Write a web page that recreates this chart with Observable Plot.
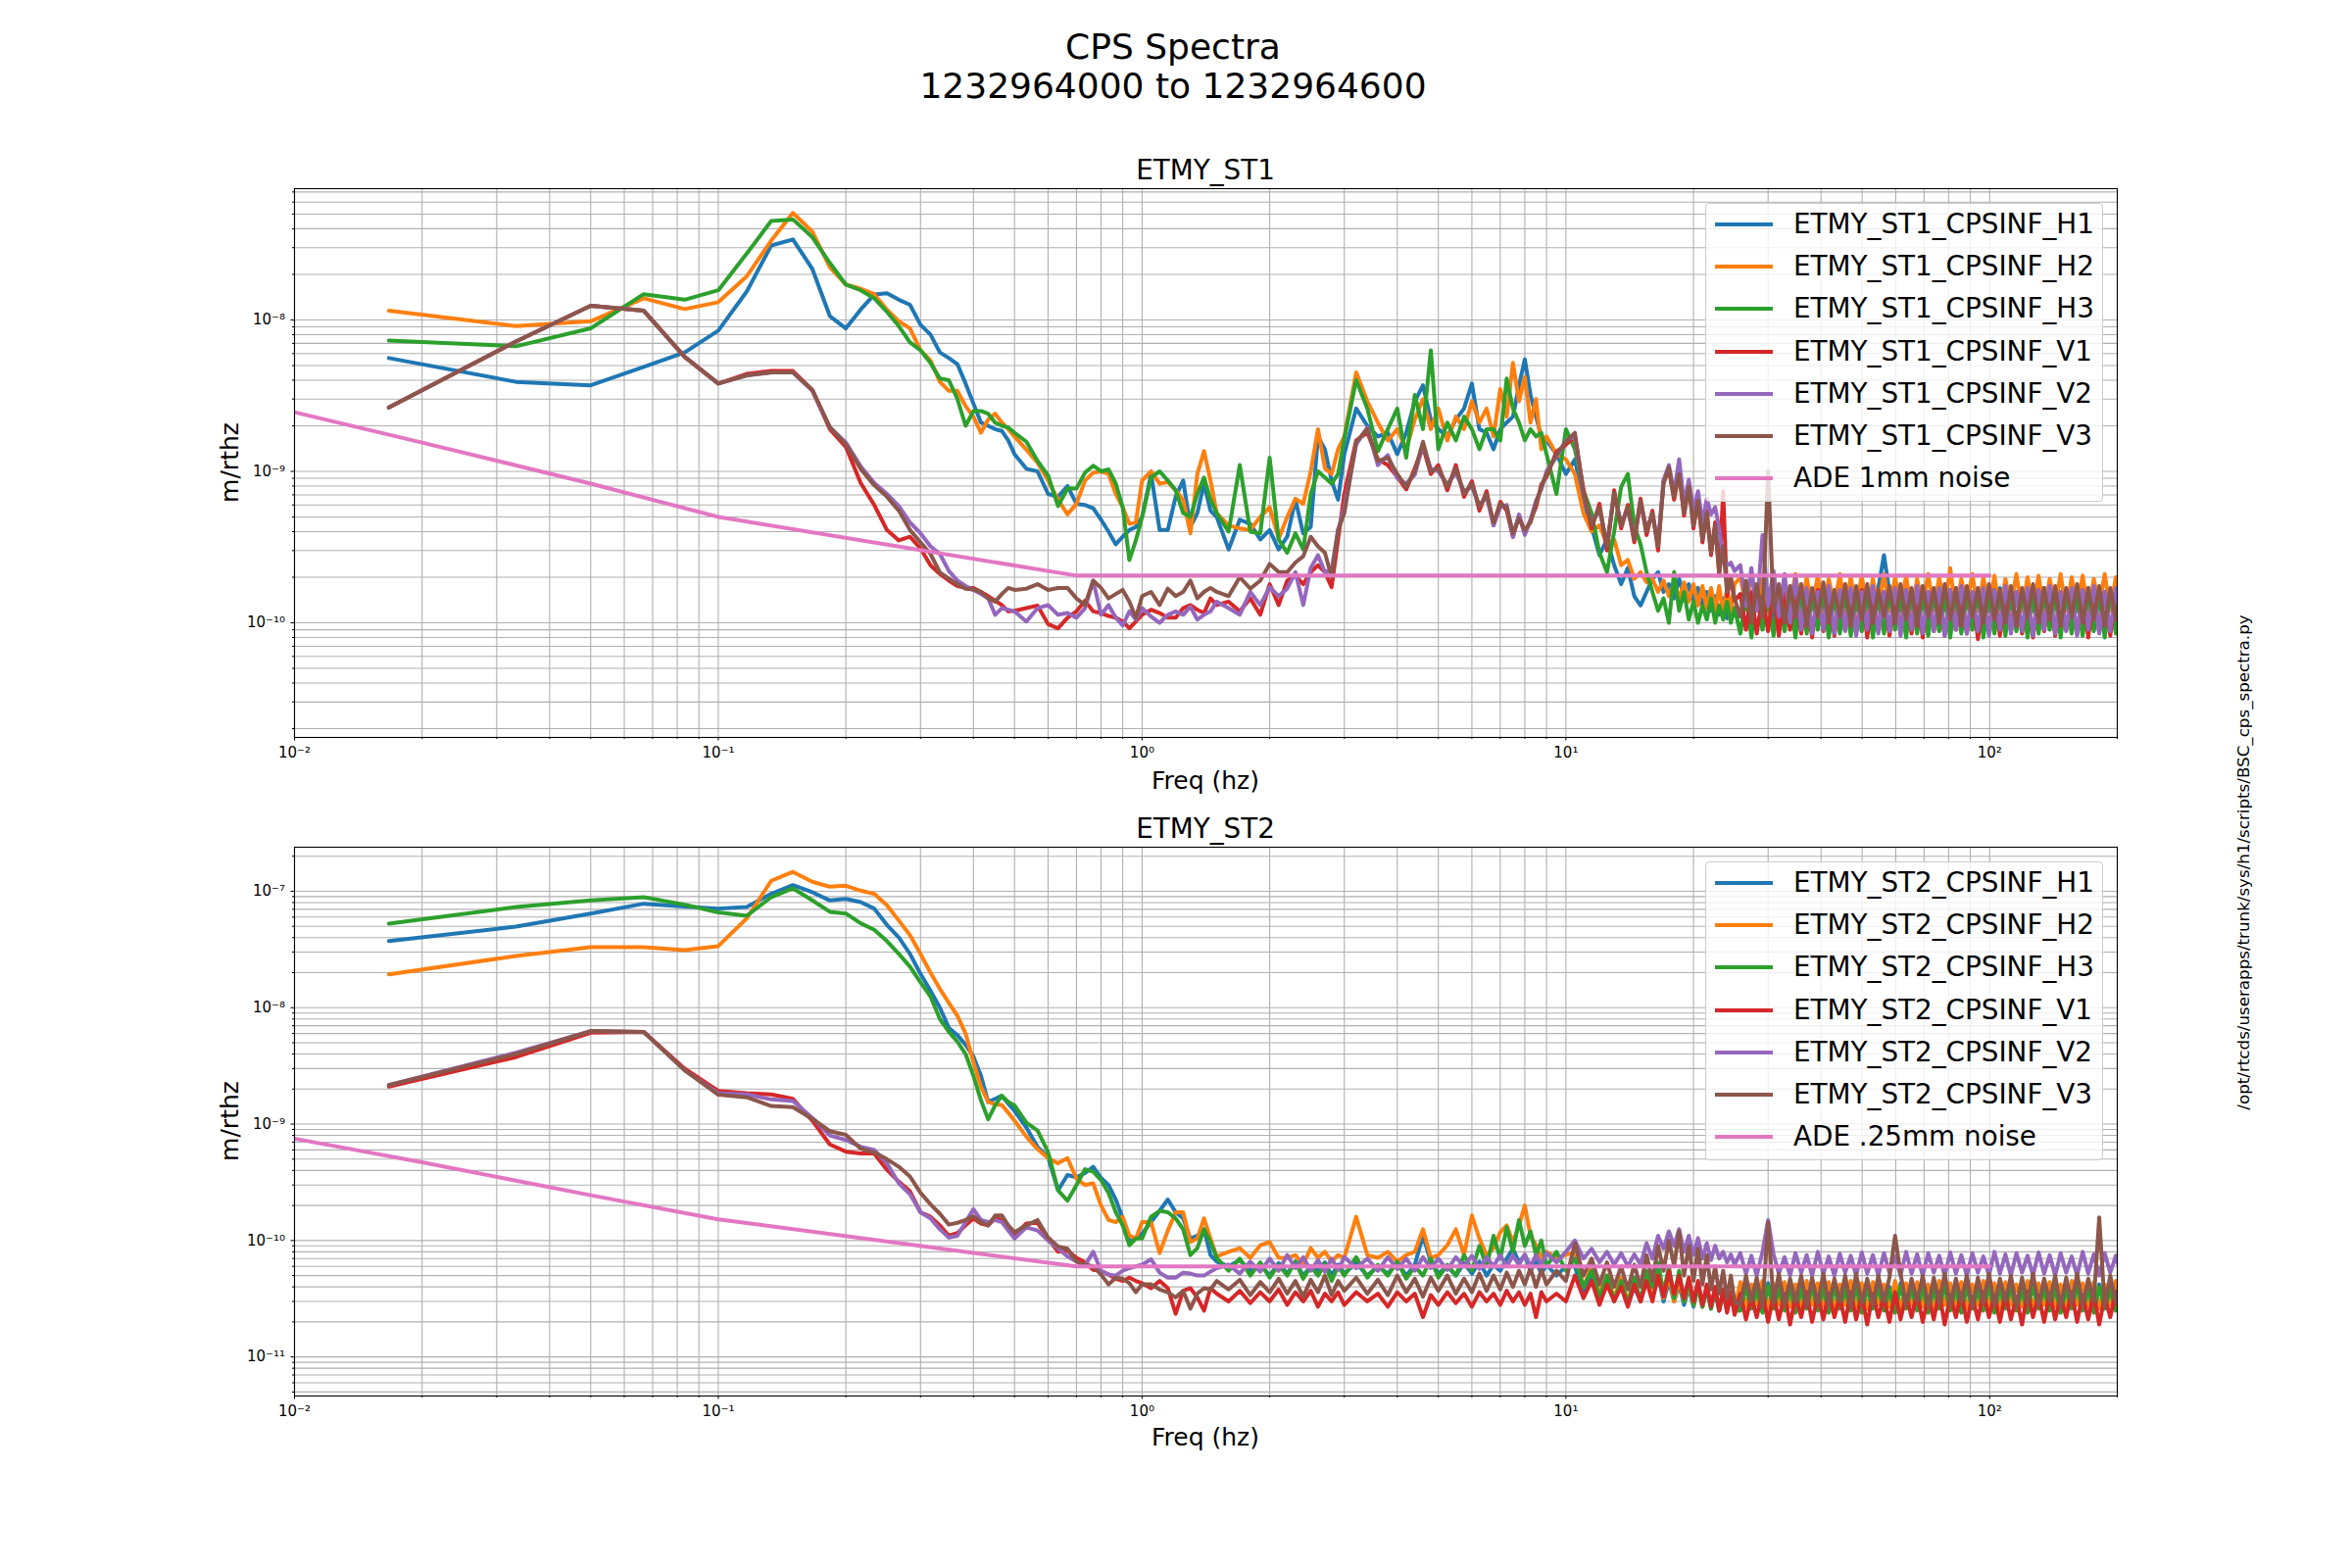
<!DOCTYPE html>
<html><head><meta charset="utf-8">
<script src="https://cdn.jsdelivr.net/npm/d3@7"></script>
<script src="https://cdn.jsdelivr.net/npm/@observablehq/plot@0.6"></script>
<style>
body{margin:0;background:#fff;}
#fig{position:relative;width:2400px;height:1600px;font-family:"DejaVu Sans",sans-serif;color:#000;overflow:hidden;}
.t{position:absolute;white-space:nowrap;line-height:1;}
.svgwrap{position:absolute;left:0;}
.legend{position:absolute;box-sizing:border-box;border:1px solid #cccccc;border-radius:4px;background:rgba(255,255,255,0.8);}
.sw{position:absolute;height:4px;}
.lt{position:absolute;white-space:nowrap;line-height:1;font-size:27.8px;transform:translateY(-50%);}
</style></head><body><div id="fig"></div>
<script>
// ---------------- DATA (amplitudes in units of 1e-10 m/rthz) ----------------
const UNIT = 1e-10;
const F_LOW = [0.0167,0.0333,0.05,0.0667,0.0833,0.1,0.1167,0.1333,0.15,0.1667,0.1833,0.2,0.2167,0.2333,0.25,0.2667,0.2833,0.3,0.3167,0.3333,0.35,0.3667,0.3833,0.4,0.4167,0.4333,0.45,0.4667,0.4833,0.5];
const F_MID = [0.5333,0.5667,0.6,0.6333,0.6667,0.7,0.7333,0.7667,0.8,0.8333,0.8667,0.9,0.9333,0.9667,1.0,
1.05,1.1,1.15,1.2,1.25,1.3,1.35,1.4,1.45,1.5,
1.6,1.7,1.8,1.9,2.0,2.1,2.2,2.3,2.4,2.5,2.6,2.7,2.8,2.9,3.0,
3.2,3.4,3.6,3.8,4.0,4.2,4.4,4.6,4.8,5.0,
5.25,5.5,5.75,6.0,6.25,6.5,6.75,7.0,7.25,7.5,7.75,8.0,8.25,8.5,8.75,9.0,9.5,10];
const F_BAND = [10.5,11,11.5,12,12.5,13,13.5,14,14.5,15,15.5,16,16.5,17,17.5,18,18.5,19,19.5,20,20.5,21,21.5,22,22.5,23,23.5,24,24.5,25];
const F_HIGH = [25.8,26.6,27.4,28.2,29.1,30,30.9,31.8,32.8,33.8,
34.8,35.9,37,38.1,39.3,40.5,41.7,43,44.3,45.6,
47,48.4,49.9,51.4,53,54.6,56.3,58,59.8,61.6,
63.5,65.4,67.4,69.5,71.6,73.8,76,78.3,80.7,83.2,
85.7,88.3,91,93.8,96.6,99.6,102.6,105.7,108.9,112.2,
115.6,119.2,122.8,126.5,130.4,134.4,138.5,142.7,147,151.5,
156.1,160.8,165.7,170.8,176,181.3,186.8,192.5,198.4,204.4];

// ETMY_ST1
const ST1_H1 = [56,39,37,49,61,85,154,310,340,217,106,88,117,147,150,136,126,93,80,61,56,51,38,28,21,20,19,18.5,16,13,
10.4,10,7.1,6.8,8.0,6.1,6.0,5.7,4.8,4.0,3.3,3.7,4.1,4.3,5.0,
9.6,4.1,4.1,6.8,8.7,4.3,5.3,8.3,5.5,5.0,
3.05,4.8,4.5,3.55,4.1,3.05,3.7,6.5,3.9,4.3,17,14,8.7,6.5,13,
26,20,17,18,13,18,29,37,22,19,
17,22,26,38,19,18,14,19,21,23,37,55,32,23,17,16,13,9.6,
12,6.4,4.3,2.8,3.55,2.4,1.8,2.3,1.5,1.3,1.6,1.95,2.16,1.6,1.8,1.45,1.95,1.5,1.8,1.38,1.7,1.3,1.6,1.2,1.5,1.13,1.45,1.07,1.38,1.13,
1.1,1.6,1.0,1.7,1.05,1.5,1.0,1.65,1.1,1.55,
0.95,1.7,1.05,1.6,1.0,1.65,1.1,1.5,0.95,1.7,
1.05,1.6,1.0,1.55,1.1,1.7,2.8,1.6,1.0,1.65,
0.95,1.6,1.1,1.7,1.0,1.55,1.05,1.65,0.95,1.7,
1.1,1.6,1.0,1.65,1.05,1.55,0.95,1.7,1.1,1.6,
1.0,1.65,1.05,1.55,0.95,1.7,1.1,1.6,1.0,1.65,
1.05,1.55,0.95,1.7,1.1,1.6,1.0,1.65,1.05,1.55];
const ST1_H2 = [115,91,98,139,118,131,194,334,509,383,223,171,161,148,117,98,88,63,54,39,34,34,27,23,18,22,24,21,19,17,
13.9,11.4,8.7,6.5,5.2,6.1,8.7,9.8,10,9.6,7.1,5.8,4.5,4.6,8.7,
10,8.3,8.5,7.5,6.5,3.9,9.6,13.6,8.7,5.3,
4.4,4.2,4.1,5.0,5.8,3.6,5.0,6.6,6.1,10,19,10.5,9.6,14,17,
45,29,21,16,19,14,22,30,19,26,
16,23,19,29,21,26,17,35,23,52,29,42,21,30,14,17,13,12,
9.6,5.3,4.0,4.4,3.3,3.55,2.4,2.6,1.95,2.16,1.85,1.95,1.6,1.9,1.5,1.85,1.45,1.85,1.38,1.8,1.3,1.75,1.25,1.7,1.2,1.75,1.13,1.7,1.2,1.8,
2.0,1.3,2.1,1.2,1.95,1.25,2.05,1.15,1.9,1.3,
2.1,1.2,2.0,1.25,2.05,1.15,1.95,1.3,2.1,1.2,
2.0,1.25,2.05,1.15,1.95,1.3,2.1,1.2,2.0,1.25,
2.05,1.15,1.95,1.3,2.1,1.2,2.0,1.25,2.3,1.15,
1.95,1.3,2.1,1.2,2.0,1.25,2.05,1.15,1.95,1.3,
2.1,1.2,2.0,1.25,2.05,1.15,1.95,1.3,2.1,1.2,
2.0,1.25,2.05,1.15,1.95,1.3,2.1,1.2,2.0,1.25];
const ST1_H3 = [73,67,88,148,136,157,274,450,461,352,238,171,157,139,113,91,71,63,52,41,40,30,20,25,25,24,21,20,19.5,18,
15.7,11.7,9.4,5.9,7.7,7.7,9.8,10.9,10,10.3,8.3,5.8,2.6,3.5,5.0,
9.1,10,8.7,7.5,5.3,5.0,7.1,9.1,6.5,5.3,
4.0,11,4.0,3.9,12.3,3.55,2.9,3.9,3.05,7.1,10,9.1,8.3,9.6,16.5,
40,26,13.6,19,26,12.3,32,19,63,14,
21,16,23,19,14,19,19,16,41,26,21,16,19,17,18,13,7.1,19,
14,7.5,5.3,2.9,2.16,4.0,7.9,9.6,4.4,3.3,2.16,1.6,1.2,1.45,1.0,2.16,1.2,1.6,1.05,1.38,1.0,1.3,1.05,1.45,1.0,1.3,1.05,1.38,1.0,1.25,
0.85,1.5,0.8,1.6,0.9,1.45,0.82,1.55,0.88,1.5,
0.8,1.6,0.85,1.45,0.9,1.55,0.8,1.5,0.85,1.6,
0.82,1.45,0.88,1.55,0.8,1.5,0.85,1.6,0.9,1.45,
0.8,1.55,0.85,1.5,0.82,1.6,0.88,1.45,0.8,1.55,
0.85,1.5,0.9,1.6,0.8,1.45,0.85,1.55,0.82,1.5,
0.88,1.6,0.8,1.45,0.85,1.55,0.9,1.5,0.8,1.6,
0.85,1.45,0.82,1.55,0.88,1.5,0.8,1.6,0.85,1.5];
const ST1_V1 = [26.4,72,124,115,57,38,44,46,46,34.5,19,14.5,8.4,6.0,4.1,3.5,3.7,3.1,2.4,2.1,1.9,1.75,1.7,1.7,1.6,1.5,1.4,1.31,1.19,1.2,
1.25,1.3,0.98,0.92,1.08,1.19,1.4,1.19,1.16,1.11,1.08,1.02,0.92,1.02,1.13,
1.22,1.16,1.08,1.08,1.25,1.31,1.22,1.16,1.45,1.31,
1.38,1.19,1.45,1.13,1.8,1.31,1.9,2.05,1.8,2.16,2.4,2.16,1.72,3.55,7.1,
16,18,12,11,9.2,7.6,10.5,14.5,9.6,11,
7.5,11,6.8,8.6,5.5,7.4,4.4,6.3,5.5,3.7,5.1,3.9,4.8,5.8,8.2,9.2,13.5,15,
17,7.6,4.2,6.1,3.0,7.5,4.2,6.0,3.4,6.6,3.8,5.5,3.0,8.6,10.2,6.5,9.9,5.1,8.2,4.2,6.6,3.4,5.5,2.8,4.6,2.05,7.4,1.5,2.0,1.4,
1.55,0.9,1.6,0.85,1.5,0.88,1.65,0.82,1.55,0.9,
1.6,0.85,1.5,0.8,1.65,0.88,1.55,0.82,1.6,0.9,
1.5,0.85,1.65,0.8,1.55,0.88,1.6,0.82,1.5,0.9,
1.65,0.85,1.55,0.8,1.6,0.88,1.5,0.82,1.65,0.9,
1.55,0.85,1.6,0.78,1.5,0.88,1.65,0.82,1.55,0.9,
1.6,0.85,1.5,0.8,1.65,0.88,1.55,0.82,1.6,0.9,
1.5,0.85,1.65,0.8,1.55,0.88,1.6,0.82,1.5,0.9];
const ST1_V2 = [26.4,72,124,115,57,38,43,45,45,34,19.6,15.5,10.8,8.4,7.1,5.9,4.6,3.9,3.2,2.85,2.2,1.9,1.75,1.65,1.55,1.45,1.13,1.25,1.22,1.19,
1.02,1.25,1.31,1.13,1.16,1.08,1.25,1.9,1.13,1.31,1.08,0.96,1.19,1.05,1.25,
1.1,1.0,1.13,1.19,1.13,1.28,1.05,1.13,1.19,1.38,
1.25,1.13,1.6,1.31,1.72,1.5,1.68,2.16,1.31,2.3,2.8,2.16,2.25,4.1,5.8,
15,19.5,11,12.8,9,8.3,9.5,15,10.4,10,
8.2,9.8,7.4,7.9,6.0,6.8,4.4,5.8,6.0,3.7,5.2,3.8,4.8,6.4,7.6,10,12.5,16,
17,6.9,4.6,5.6,3.3,7.0,4.6,5.5,3.7,6.2,4.2,5.1,3.4,8.8,11,7.2,12,6.2,8.8,5.6,7.4,4.6,6.6,5.2,5.8,4.2,2.6,2.4,2.5,2.2,
2.4,1.3,2.3,1.2,3.8,1.3,2.2,1.1,2.1,1.0,
2.0,0.9,1.7,0.85,1.6,0.9,1.75,0.85,1.65,0.88,
1.7,0.82,1.6,0.9,1.75,0.85,1.6,0.88,1.7,0.82,
1.65,0.9,1.75,0.85,1.6,0.88,1.7,0.82,1.65,0.9,
1.75,0.85,1.6,0.88,1.7,0.82,1.65,0.9,1.75,0.85,
1.6,0.88,1.7,0.82,1.65,0.9,1.75,0.85,1.6,0.88,
1.7,0.82,1.65,0.9,1.75,0.85,1.6,0.88,1.7,0.82];
const ST1_V3 = [26.4,72,124,115,57,38,43,45,45,34.5,19.6,15.1,10.4,8.1,6.8,5.5,4.1,3.4,2.85,2.15,1.96,1.8,1.68,1.66,1.6,1.45,1.38,1.55,1.7,1.65,
1.68,1.8,1.65,1.7,1.7,1.45,1.31,1.9,1.7,1.45,1.55,1.65,1.38,1.08,1.5,
1.6,1.31,1.68,1.5,1.6,1.9,1.45,1.6,1.7,1.6,
1.5,2.0,1.68,1.9,2.45,2.16,2.16,2.5,2.75,3.7,3.2,2.9,2.0,4.1,5.3,
15.7,19,11.7,12.3,9.6,7.9,10,15.7,10,10.5,
7.9,10.5,7.1,8.3,5.8,7.1,4.6,6.1,5.8,3.9,4.9,4.1,4.6,6.1,7.9,9.6,12.9,15.7,
18,7.2,4.4,5.8,3.2,7.2,4.4,5.8,3.55,6.4,4.0,5.3,3.2,8.3,10.6,6.8,9.6,5.3,7.9,4.4,6.4,3.55,5.3,2.9,4.4,2.16,3.2,1.6,1.95,1.45,
1.1,1.9,1.0,1.8,1.1,10,1.2,1.8,1.0,1.75,
1.1,1.8,0.95,1.7,1.1,1.85,1.0,1.65,1.1,1.8,
0.95,1.75,1.05,1.8,1.0,1.65,1.1,1.75,1.0,1.8,
1.05,1.7,0.95,1.75,1.1,1.7,1.0,1.8,1.05,1.7,
0.95,1.75,1.1,1.7,1.0,1.8,1.05,1.65,1.0,1.75,
0.95,1.7,1.1,1.8,1.0,1.7,1.05,1.75,0.95,1.7,
1.1,1.8,1.0,1.7,1.05,1.75,0.95,1.7,1.05,1.75];

// ETMY_ST2
const ST2_H1 = [373,497,644,782,740,710,732,950,1130,980,834,861,807,710,514,400,290,195,140,100,67,58,48,38,26,15.5,16.5,17.5,15,13,
9.35,6.35,5.2,2.7,3.65,3.5,3.8,4.3,3.45,3.0,2.25,1.55,0.97,1.04,1.15,
1.44,1.8,2.25,1.75,1.55,1.04,1.1,1.25,0.75,0.66,
0.6,0.68,0.55,0.62,0.5,0.64,0.52,0.66,0.5,0.6,0.55,0.65,0.5,0.62,0.52,
0.64,0.5,0.6,0.52,0.65,0.5,0.62,1.1,0.66,0.52,
0.6,0.5,0.64,0.52,0.66,0.5,0.62,0.55,0.7,0.85,0.65,0.75,0.55,0.66,0.52,0.62,0.5,0.6,
0.6,0.35,0.5,0.3,0.45,0.32,0.42,0.28,0.4,0.3,0.45,0.32,0.5,0.3,0.45,0.3,0.42,0.28,0.4,0.27,0.4,0.27,0.38,0.26,0.37,0.25,0.36,0.25,0.35,0.25,
0.26,0.42,0.27,0.4,0.25,0.43,0.27,0.41,0.26,0.42,
0.25,0.4,0.27,0.43,0.26,0.41,0.25,0.42,0.27,0.4,
0.26,0.43,0.25,0.41,0.27,0.42,0.26,0.4,0.25,0.43,
0.27,0.41,0.26,0.42,0.25,0.4,0.27,0.43,0.26,0.41,
0.25,0.42,0.27,0.4,0.26,0.43,0.25,0.41,0.27,0.42,
0.26,0.4,0.25,0.43,0.27,0.41,0.26,0.42,0.25,0.4,
0.27,0.43,0.26,0.41,0.25,0.42,0.27,0.4,0.26,0.43];
const ST2_H2 = [193,278,331,331,312,338,585,1230,1466,1206,1094,1116,1013,950,757,560,420,290,200,145,110,85,60,34,21,15.5,14.8,14.6,12.5,10.7,
7.8,6.1,5.1,4.6,5.1,3.4,3.0,3.1,2.0,1.5,1.44,1.6,1.1,1.04,1.44,
1.44,0.78,1.22,1.75,1.75,0.97,1.04,1.55,1.04,0.73,
0.8,0.86,0.71,0.91,0.97,0.71,0.71,0.75,0.62,0.86,0.71,0.8,0.66,0.75,0.71,
1.6,0.75,0.71,0.8,0.66,0.75,0.8,1.25,0.71,0.75,
0.91,1.25,0.75,1.64,1.04,0.75,0.86,1.18,1.35,0.97,1.35,2.0,1.1,0.91,0.71,0.8,0.71,0.75,
0.8,0.4,0.6,0.35,0.5,0.32,0.48,0.3,0.45,0.3,0.5,0.33,0.55,0.32,0.5,0.3,0.45,0.3,0.42,0.28,0.4,0.27,0.4,0.27,0.38,0.26,0.37,0.25,0.36,0.25,
0.44,0.27,0.42,0.28,0.45,0.26,0.43,0.28,0.44,0.27,
0.42,0.26,0.45,0.28,0.43,0.27,0.44,0.26,0.42,0.28,
0.45,0.27,0.43,0.26,0.44,0.28,0.42,0.27,0.45,0.26,
0.43,0.28,0.44,0.27,0.42,0.26,0.45,0.28,0.43,0.27,
0.44,0.26,0.42,0.28,0.45,0.27,0.43,0.26,0.44,0.28,
0.42,0.27,0.45,0.26,0.43,0.28,0.44,0.27,0.42,0.26,
0.45,0.28,0.43,0.27,0.44,0.26,0.42,0.28,0.45,0.27];
const ST2_H3 = [527,732,834,889,767,658,616,889,1060,834,666,644,531,467,373,290,225,165,125,80,62,51,40,26,16,11,14.5,17.5,15.5,14.5,
10.3,8.8,5.75,2.7,2.2,3.0,4.1,3.9,3.3,2.57,1.75,1.35,0.91,1.04,1.04,
1.6,1.8,1.75,1.55,1.25,0.75,0.86,1.25,0.97,0.71,
0.55,0.7,0.5,0.65,0.48,0.62,0.5,0.66,0.47,0.6,0.5,0.63,0.45,0.6,0.5,
0.72,0.48,0.62,0.5,0.66,0.47,0.6,0.5,0.7,0.48,
0.62,0.5,0.75,0.55,0.9,0.6,1.1,0.7,1.3,0.8,1.5,0.9,1.2,0.75,1.0,0.6,0.8,0.55,
0.7,0.4,0.55,0.32,0.5,0.3,0.45,0.28,0.48,0.3,0.55,0.4,0.65,0.35,0.6,0.32,0.55,0.3,0.45,0.28,0.42,0.27,0.4,0.26,0.38,0.25,0.36,0.26,0.34,0.25,
0.25,0.4,0.26,0.38,0.24,0.41,0.26,0.39,0.25,0.4,
0.24,0.38,0.26,0.41,0.25,0.39,0.24,0.4,0.26,0.38,
0.25,0.41,0.24,0.39,0.26,0.4,0.25,0.38,0.24,0.41,
0.26,0.39,0.25,0.4,0.24,0.38,0.26,0.41,0.25,0.39,
0.24,0.4,0.26,0.38,0.25,0.41,0.24,0.39,0.26,0.4,
0.25,0.38,0.24,0.41,0.26,0.39,0.25,0.4,0.24,0.38,
0.26,0.41,0.25,0.39,0.24,0.4,0.26,0.38,0.25,0.41];
const ST2_V1 = [21,37.6,61,62,30,19.3,18.4,18,16.5,10.7,6.7,5.8,5.6,5.6,4.05,3.2,2.65,1.75,1.6,1.35,1.1,1.16,1.35,1.55,1.4,1.35,1.56,1.5,1.27,1.1,
1.4,1.42,1.04,0.8,0.82,0.71,0.65,0.56,0.55,0.51,0.47,0.45,0.48,0.45,0.43,
0.39,0.45,0.39,0.235,0.37,0.39,0.325,0.25,0.39,0.35,
0.3,0.37,0.29,0.36,0.3,0.38,0.28,0.36,0.3,0.37,0.27,0.35,0.3,0.36,0.28,
0.36,0.3,0.35,0.27,0.36,0.3,0.35,0.22,0.34,0.28,
0.36,0.29,0.35,0.27,0.36,0.3,0.35,0.28,0.37,0.3,0.36,0.28,0.35,0.22,0.36,0.3,0.35,0.3,
0.5,0.32,0.45,0.28,0.42,0.3,0.4,0.27,0.42,0.3,0.45,0.3,0.5,0.33,0.55,0.35,0.5,0.32,0.48,0.3,0.45,0.28,0.42,0.27,0.4,0.25,0.38,0.24,0.36,0.23,
0.35,0.21,0.33,0.22,0.36,0.2,0.34,0.21,0.35,0.19,
0.33,0.22,0.36,0.2,0.34,0.21,0.35,0.22,0.33,0.2,
0.36,0.21,0.34,0.19,0.35,0.22,0.33,0.2,0.36,0.21,
0.34,0.22,0.35,0.2,0.33,0.21,0.36,0.19,0.34,0.22,
0.35,0.2,0.33,0.21,0.36,0.22,0.34,0.2,0.35,0.21,
0.33,0.19,0.36,0.22,0.34,0.2,0.35,0.21,0.33,0.22,
0.36,0.2,0.34,0.21,0.35,0.19,0.33,0.22,0.36,0.2];
const ST2_V2 = [21.7,41,63,62,29,18.4,18,16.3,15.8,11.3,8.0,7.3,6.4,6.0,4.6,3.1,2.5,1.75,1.55,1.25,1.06,1.1,1.44,1.86,1.5,1.44,1.5,1.44,1.22,1.04,
1.3,1.22,1.0,0.86,0.73,0.66,0.61,0.8,0.55,0.51,0.5,0.55,0.58,0.6,0.62,
0.69,0.53,0.48,0.48,0.53,0.52,0.5,0.5,0.54,0.58,
0.62,0.52,0.66,0.54,0.7,0.55,0.75,0.58,0.72,0.55,0.68,0.54,0.7,0.56,0.72,
0.58,0.7,0.55,0.72,0.57,0.7,0.55,0.72,0.58,0.7,
0.56,0.72,0.6,0.74,0.57,0.72,0.6,0.75,0.6,0.74,0.62,0.76,0.6,0.75,0.62,0.78,0.65,0.8,
1.0,0.7,0.85,0.65,0.8,0.62,0.78,0.6,0.76,0.62,0.95,0.7,1.1,0.85,1.2,0.9,1.25,0.8,1.1,0.75,1.05,0.7,0.95,0.68,0.9,0.7,0.8,0.65,0.76,0.62,
0.78,0.52,0.74,0.5,0.8,1.5,0.76,0.52,0.72,0.5,
0.78,0.53,0.75,0.5,0.8,0.52,0.73,0.5,0.77,0.53,
0.74,0.5,0.79,0.52,0.75,0.5,0.78,0.53,0.73,0.5,
0.8,0.52,0.76,0.5,0.78,0.53,0.74,0.5,0.79,0.52,
0.75,0.5,0.78,0.53,0.73,0.5,0.8,0.52,0.76,0.5,
0.78,0.53,0.74,0.5,0.79,0.52,0.75,0.5,0.78,0.53,
0.73,0.5,0.8,0.52,0.76,0.5,0.78,0.53,0.74,0.5];
const ST2_V3 = [21.7,40,63,62,29,17.9,17,14.3,14,11.1,8.7,8.1,6.15,5.7,5.0,4.3,3.55,2.57,2.05,1.7,1.37,1.42,1.5,1.62,1.44,1.35,1.64,1.64,1.35,1.18,
1.35,1.5,1.06,0.89,0.85,0.66,0.62,0.6,0.51,0.42,0.48,0.47,0.43,0.36,0.42,
0.42,0.38,0.36,0.325,0.37,0.26,0.35,0.39,0.38,0.45,
0.38,0.46,0.34,0.44,0.36,0.47,0.35,0.45,0.33,0.46,0.36,0.5,0.34,0.45,0.37,
0.48,0.35,0.46,0.34,0.5,0.36,0.47,0.33,0.48,0.37,
0.5,0.35,0.47,0.36,0.52,0.37,0.5,0.38,0.53,0.4,0.55,0.42,0.58,0.4,0.56,0.42,0.55,0.45,
0.95,0.5,0.7,0.42,0.65,0.4,0.6,0.38,0.62,0.4,0.75,0.45,0.9,0.55,1.0,0.6,1.2,0.5,0.9,0.45,0.85,0.42,0.75,0.38,0.6,0.35,0.55,0.32,0.5,0.3,
0.28,0.5,0.3,0.48,0.27,1.43,0.29,0.52,0.28,0.47,
0.3,0.5,0.27,0.48,0.29,0.52,0.28,0.47,0.3,0.5,
0.27,0.52,0.29,0.47,0.28,0.5,0.3,0.48,1.1,0.52,
0.28,0.47,0.3,0.5,0.27,0.48,0.29,0.52,0.28,0.47,
0.3,0.5,0.27,0.48,0.29,0.52,0.28,0.47,0.3,0.5,
0.27,0.48,0.29,0.52,0.28,0.47,0.3,0.5,0.27,0.48,
0.29,0.52,0.28,0.47,0.3,1.58,0.27,0.5,0.29,0.52];

// ADE noise models
const ADE_F = [0.01,0.02,0.05,0.1,0.7,100];
const ADE_ST1 = [24.6,15.5,8.3,5.0,2.05,2.05];
const ADE_ST2 = [7.5,4.7,2.45,1.52,0.6,0.6];

// labels
const SUPTITLE = ["CPS Spectra","1232964000 to 1232964600"];
const TITLES = ["ETMY_ST1","ETMY_ST2"];
const LEGEND_ST1 = ["ETMY_ST1_CPSINF_H1","ETMY_ST1_CPSINF_H2","ETMY_ST1_CPSINF_H3","ETMY_ST1_CPSINF_V1","ETMY_ST1_CPSINF_V2","ETMY_ST1_CPSINF_V3","ADE 1mm noise"];
const LEGEND_ST2 = ["ETMY_ST2_CPSINF_H1","ETMY_ST2_CPSINF_H2","ETMY_ST2_CPSINF_H3","ETMY_ST2_CPSINF_V1","ETMY_ST2_CPSINF_V2","ETMY_ST2_CPSINF_V3","ADE .25mm noise"];
const X_MAJOR = [0.01,0.1,1,10,100];
const X_TICK_LABELS = ["10⁻²","10⁻¹","10⁰","10¹","10²"];
const Y1_MAJOR = [1e-10,1e-9,1e-8];
const Y1_TICK_LABELS = ["10⁻¹⁰","10⁻⁹","10⁻⁸"];
const Y2_MAJOR = [1e-11,1e-10,1e-9,1e-8,1e-7];
const Y2_TICK_LABELS = ["10⁻¹¹","10⁻¹⁰","10⁻⁹","10⁻⁸","10⁻⁷"];
const COLORS = ["#1f77b4","#ff7f0e","#2ca02c","#d62728","#9467bd","#8c564b","#e377c2"];

// ---------------- BUILD ----------------
const LINE_W = 4;
const FREQ = [...F_LOW, ...F_MID, ...F_BAND, ...F_HIGH];
function toRows(fs, vs){
  if (fs.length !== vs.length) console.warn("length mismatch", fs.length, vs.length);
  const n = Math.min(fs.length, vs.length), out = [];
  for (let i = 0; i < n; i++) out.push({f: fs[i], v: vs[i] * UNIT});
  return out;
}
function minorTicks(decades, lo, hi){
  const out = [];
  for (const d of decades) for (let k = 2; k <= 9; k++) { const v = d * k; if (v > lo * 1.0001 && v < hi * 0.9999) out.push(v); }
  return out;
}
const fig = document.getElementById("fig");
function addText(str, x, y, size, rot, extra){
  const d = document.createElement("div");
  d.className = "t"; d.textContent = str;
  d.style.left = x + "px"; d.style.top = y + "px"; d.style.fontSize = size + "px";
  d.style.transform = "translate(-50%,-50%)" + (rot ? " rotate(" + rot + "deg)" : "");
  if (extra) Object.assign(d.style, extra);
  fig.appendChild(d);
}

function panel(cfg){
  const X_DOMAIN = [0.01, 200];
  const xMinor = minorTicks([0.01,0.1,1,10,100], X_DOMAIN[0], X_DOMAIN[1] * 1.001);
  const yMinor = minorTicks(cfg.yDecades, cfg.yDomain[0], cfg.yDomain[1]);
  const grid = {stroke: "#b0b0b0", strokeOpacity: 1, strokeWidth: 1.1};
  const marks = [
    Plot.gridX([...X_MAJOR, ...xMinor], grid),
    Plot.gridY([...cfg.yMajor, ...yMinor], grid)
  ];
  cfg.series.forEach((vals, i) => marks.push(Plot.line(toRows(FREQ, vals), {x: "f", y: "v", stroke: COLORS[i], strokeWidth: LINE_W, clip: true})));
  marks.push(Plot.line(toRows(ADE_F, cfg.ade), {x: "f", y: "v", stroke: COLORS[6], strokeWidth: LINE_W, clip: true}));
  marks.push(Plot.frame({stroke: "#000", strokeWidth: 1.1}));
  marks.push(Plot.axisX(X_MAJOR, {anchor: "bottom", tickSize: 3.5, tickPadding: 6, label: null, fontSize: 15,
    tickFormat: d => X_TICK_LABELS[X_MAJOR.indexOf(d)]}));
  marks.push(Plot.axisX(xMinor, {anchor: "bottom", tickSize: 2, label: null, tickFormat: () => ""}));
  marks.push(Plot.axisY(cfg.yMajor, {anchor: "left", tickSize: 3.5, tickPadding: 6, label: null, fontSize: 15,
    tickFormat: d => cfg.yLabels[cfg.yMajor.indexOf(d)]}));
  marks.push(Plot.axisY(yMinor, {anchor: "left", tickSize: 2, label: null, tickFormat: () => ""}));
  const svg = Plot.plot({
    width: 2400, height: cfg.height,
    marginLeft: 300, marginRight: 240, marginTop: cfg.mTop, marginBottom: cfg.mBottom,
    x: {type: "log", domain: X_DOMAIN},
    y: {type: "log", domain: cfg.yDomain},
    style: {fontFamily: "'DejaVu Sans', sans-serif", fontSize: "15px", color: "#000", background: "transparent", overflow: "visible"},
    marks
  });
  const wrap = document.createElement("div");
  wrap.className = "svgwrap"; wrap.style.top = cfg.top + "px";
  wrap.appendChild(svg);
  fig.appendChild(wrap);

  // legend (inside axes, upper right)
  const lg = document.createElement("div");
  lg.className = "legend";
  Object.assign(lg.style, {left: "1740px", top: cfg.legendTop + "px", width: "406px", height: "305px"});
  cfg.legend.forEach((lab, i) => {
    const cy = 21 + i * 43.2;
    const sw = document.createElement("div");
    sw.className = "sw";
    Object.assign(sw.style, {left: "9px", width: "59px", top: (cy - 2) + "px", background: COLORS[i]});
    lg.appendChild(sw);
    const tx = document.createElement("div");
    tx.className = "lt"; tx.textContent = lab;
    Object.assign(tx.style, {left: "89px", top: cy + "px"});
    lg.appendChild(tx);
  });
  fig.appendChild(lg);

  addText(cfg.title, 1230, cfg.titleY, 27.8);
  addText("Freq (hz)", 1230, cfg.xlabelY, 25);
  addText("m/rthz", 234, cfg.ylabelY, 25, -90);
}

addText(SUPTITLE[0], 1197, 48, 36);
addText(SUPTITLE[1], 1197, 88, 36);

panel({top: 0, height: 800, mTop: 192, mBottom: 48,
  yDomain: [1.75e-11, 7.36e-8], yMajor: Y1_MAJOR, yLabels: Y1_TICK_LABELS, yDecades: [1e-11,1e-10,1e-9,1e-8],
  series: [ST1_H1, ST1_H2, ST1_H3, ST1_V1, ST1_V2, ST1_V3], ade: ADE_ST1, legend: LEGEND_ST1,
  legendTop: 207, title: TITLES[0], titleY: 174, xlabelY: 796, ylabelY: 472});

panel({top: 800, height: 800, mTop: 64, mBottom: 176,
  yDomain: [4.62e-12, 2.39e-7], yMajor: Y2_MAJOR, yLabels: Y2_TICK_LABELS, yDecades: [1e-12,1e-11,1e-10,1e-9,1e-8,1e-7],
  series: [ST2_H1, ST2_H2, ST2_H3, ST2_V1, ST2_V2, ST2_V3], ade: ADE_ST2, legend: LEGEND_ST2,
  legendTop: 879, title: TITLES[1], titleY: 846, xlabelY: 1466, ylabelY: 1144});

addText("/opt/rtcds/userapps/trunk/sys/h1/scripts/BSC_cps_spectra.py", 2289, 880, 16.7, -90);
</script></body></html>
